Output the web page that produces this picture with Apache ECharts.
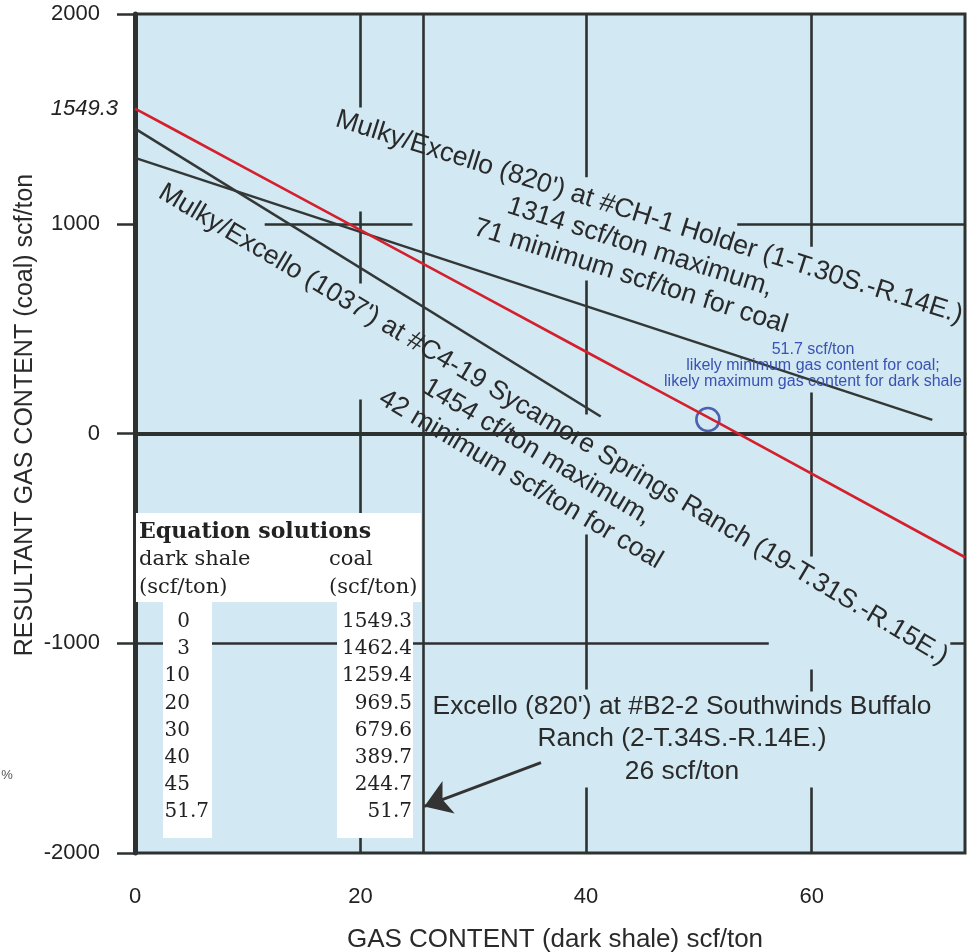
<!DOCTYPE html>
<html><head><meta charset="utf-8">
<script src="https://cdn.jsdelivr.net/npm/echarts@6/dist/echarts.min.js"></script>
<style>html,body{margin:0;padding:0;background:#fff}#c{width:968px;height:952px}</style>
</head><body><div id="c"></div>
<script>
// ---- data ----
const shaleVals = [0, 3, 10, 20, 30, 40, 45, 51.7];
const coalVals = [1549.3, 1462.4, 1259.4, 969.5, 679.6, 389.7, 244.7, 51.7];
const redLineEnd = [73.6, -590];
const holderLine = [[0, 1314], [70.7, 65]];
const sycamoreLine = [[0, 1454], [41.3, 81]];
const circlePoint = [50.8, 67];
const arrowFrom = [36.0, -1569];
const arrowTo = [25.65, -1778];
const yExtraTick = 1549.3;
// reference-line pieces: [x, yFrom, yTo] and [y, xFrom, xTo]
const vSegs = [[20, 2000, 1554], [20, 1058, 715], [20, 162, -2000],
  [25.55, 2000, -2000],
  [40, 2000, 1222], [40, 730, 90], [40, -482, -1220], [40, -1688, -2000],
  [60, 2000, 890], [60, 195, -586], [60, -1125, -1230], [60, -1688, -2000]];
const hSegs = [[1000, 11.5, 24.6], [1000, 53.4, 73.6], [-1000, 0, 56.2], [-1000, 72.3, 73.6]];
const zeroSegs = [[0, 0, 25.0], [0, 41.7, 73.6]];

const tableTitle = 'Equation solutions';
const colHeads = [['dark shale', 'coal'], ['(scf/ton)', '(scf/ton)']];
const holderText = "Mulky/Excello (820') at #CH-1 Holder (1-T.30S.-R.14E.)\n1314 scf/ton maximum,\n71 minimum scf/ton for coal";
const sycamoreText = "Mulky/Excello (1037') at #C4-19 Sycamore Springs Ranch (19-T.31S.-R.15E.)\n1454 cf/ton maximum,\n42 minimum scf/ton for coal";
const excelloText = "Excello (820') at #B2-2 Southwinds Buffalo\nRanch (2-T.34S.-R.14E.)\n26 scf/ton";
const blueText = "51.7 scf/ton\nlikely minimum gas content for coal;\nlikely maximum gas content for dark shale";

// ---- chart ----
const DARK = '#2d3130';
const SANS = '"Liberation Sans", Arial, Helvetica, sans-serif';
const SERIF = '"DejaVu Serif", "Liberation Serif", serif';
const chart = echarts.init(document.getElementById('c'));

const segData = vSegs.map(s => ({coords: [[s[0], s[1]], [s[0], s[2]]]}))
  .concat(hSegs.map(s => ({coords: [[s[1], s[0]], [s[2], s[0]]]})));
const zeroData = zeroSegs.map(s => ({coords: [[s[1], s[0]], [s[2], s[0]]]}));
const redData = shaleVals.map((s, i) => [s, coalVals[i]]).concat([redLineEnd]);

function txt(x, y, text, style, extra) {
  return Object.assign({type: 'text', x: x, y: y, z: 101, silent: true,
    style: Object.assign({text: text, x: 0, y: 0, fill: '#222', fontFamily: SANS,
      textAlign: 'center', textVerticalAlign: 'middle'}, style)}, extra || {});
}

const graphics = [];
// table white boxes
graphics.push({type: 'rect', z: 100, silent: true, shape: {x: 136, y: 513, width: 285, height: 89}, style: {fill: '#fff'}});
graphics.push({type: 'rect', z: 100, silent: true, shape: {x: 163, y: 602, width: 49, height: 236}, style: {fill: '#fff'}});
graphics.push({type: 'rect', z: 100, silent: true, shape: {x: 337, y: 602, width: 76, height: 236}, style: {fill: '#fff'}});
graphics.push(txt(139, 532, tableTitle, {fontFamily: SERIF, fontSize: 22, fontWeight: 'bold', textAlign: 'left'}));
colHeads.forEach((row, r) => {
  graphics.push(txt(139, 560 + r * 28, row[0], {fontFamily: SERIF, fontSize: 21, textAlign: 'left'}));
  graphics.push(txt(329, 560 + r * 28, row[1], {fontFamily: SERIF, fontSize: 21, textAlign: 'left'}));
});
shaleVals.forEach((v, i) => {
  const y = 622 + i * 27.1;
  const s = String(v);
  const p = s.indexOf('.');
  const ip = p < 0 ? s : s.slice(0, p);
  const fp = p < 0 ? '' : s.slice(p);
  graphics.push(txt(190, y, ip, {fontFamily: SERIF, fontSize: 20, textAlign: 'right'}));
  if (fp) graphics.push(txt(190, y, fp, {fontFamily: SERIF, fontSize: 20, textAlign: 'left'}));
  graphics.push(txt(412, y, coalVals[i].toFixed(1), {fontFamily: SERIF, fontSize: 20, textAlign: 'right'}));
});
// annotations
graphics.push(txt(640, 247, holderText, {fontSize: 26.8, lineHeight: 31, fill: '#2a2a2a'}, {rotation: -17.5 * Math.PI / 180}));
graphics.push(txt(537, 452, sycamoreText, {fontSize: 26.6, lineHeight: 32, fill: '#2a2a2a'}, {rotation: -30.8 * Math.PI / 180}));
graphics.push(txt(682, 739, excelloText, {fontSize: 26.4, lineHeight: 32.5, fill: '#2a2a2a'}));
graphics.push(txt(813, 366, blueText, {fontSize: 16, lineHeight: 16, fill: '#3a52b4'}));
// axis titles
graphics.push(txt(555, 940, 'GAS CONTENT (dark shale) scf/ton', {fontSize: 26, fill: '#2a2a2a'}));
graphics.push(txt(25, 415, 'RESULTANT GAS CONTENT (coal) scf/ton', {fontSize: 25, fill: '#2a2a2a'}, {rotation: Math.PI / 2}));
graphics.push(txt(7, 775, '%', {fontSize: 13, fill: '#555'}));

chart.setOption({
  animation: false,
  backgroundColor: '#fff',
  grid: {left: 135, right: 3, top: 14, bottom: 99, show: true, backgroundColor: '#d2e8f2',
    borderColor: DARK, borderWidth: 3, outerBoundsMode: 'none'},
  xAxis: {type: 'value', min: 0, max: 73.6, interval: 20,
    axisLine: {show: true, lineStyle: {color: DARK, width: 4}},
    axisTick: {show: false}, splitLine: {show: false},
    axisLabel: {fontSize: 22, color: '#222', margin: 33, fontFamily: SANS, showMaxLabel: false,
      formatter: v => String(v)}},
  yAxis: {type: 'value', min: -2000, max: 2000, interval: 1000,
    axisLine: {show: true, lineStyle: {color: DARK, width: 5}},
    axisTick: {show: true, length: 18, lineStyle: {color: DARK, width: 2.5}},
    splitLine: {show: false},
    axisLabel: {fontSize: 22, color: '#222', margin: 35, fontFamily: SANS,
      formatter: v => String(v)}},
  series: [
    {type: 'lines', coordinateSystem: 'cartesian2d', silent: true, z: 1,
      lineStyle: {color: DARK, width: 2.6, opacity: 1}, data: segData},
    {type: 'lines', coordinateSystem: 'cartesian2d', silent: true, z: 1,
      lineStyle: {color: DARK, width: 4, opacity: 1}, data: zeroData},
    {name: 'Sycamore Springs', type: 'line', data: sycamoreLine, symbol: 'none', silent: true,
      lineStyle: {color: '#333837', width: 2.6}},
    {name: 'Holder', type: 'line', data: holderLine, symbol: 'none', silent: true,
      lineStyle: {color: '#333837', width: 2.6}},
    {name: 'Equation solutions', type: 'line', data: redData, symbol: 'none', silent: true,
      lineStyle: {color: '#d4202c', width: 2.6}},
    {name: 'likely limit', type: 'scatter', data: [circlePoint], symbol: 'circle', symbolSize: 23, silent: true,
      itemStyle: {color: 'rgba(0,0,0,0)', borderColor: '#2b3f9e', borderWidth: 2.6}},
    {name: 'arrow', type: 'lines', coordinateSystem: 'cartesian2d', silent: true, z: 5,
      symbol: ['none', 'arrow'], symbolSize: 26,
      lineStyle: {color: '#333', width: 3, opacity: 1},
      data: [{coords: [arrowFrom, arrowTo]}]}
  ],
  graphic: graphics
});

const py = chart.convertToPixel({yAxisIndex: 0}, yExtraTick);
chart.setOption({graphic: graphics.concat([
  txt(118, py, String(yExtraTick), {fontSize: 22, fontStyle: 'italic', textAlign: 'right', fill: '#222'})
])});
</script></body></html>
